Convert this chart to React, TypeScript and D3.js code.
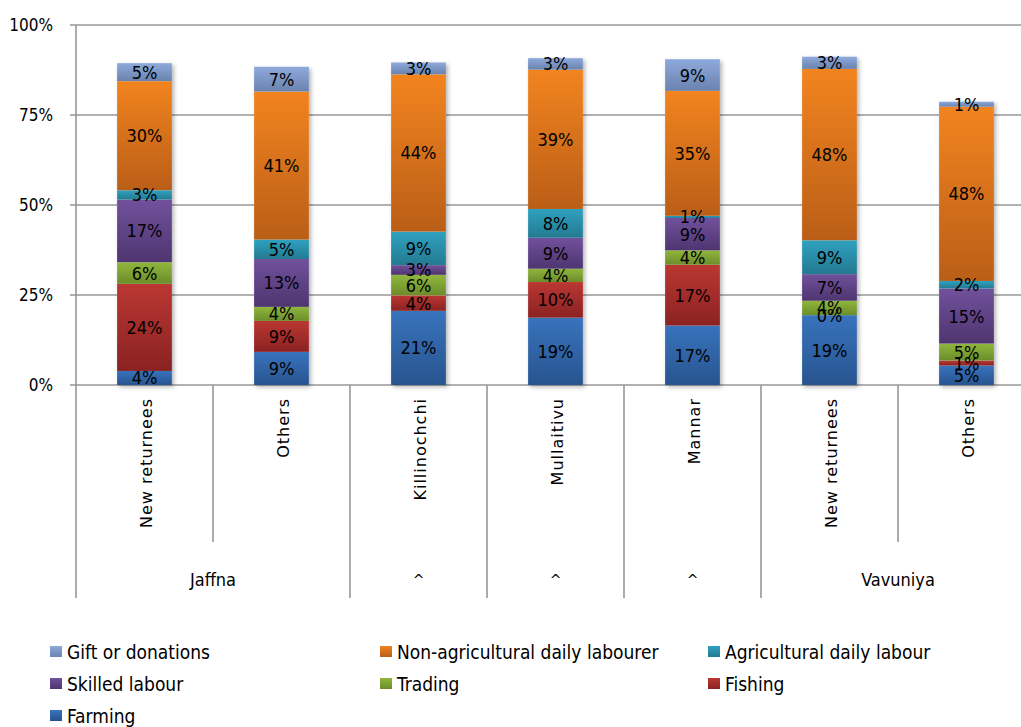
import React from "react";
import * as d3 from "d3";

const categories = ["New returnees", "Others", "Killinochchi", "Mullaitivu", "Mannar", "New returnees", "Others"];
const groupLabels = ["Jaffna", "^", "^", "^", "Vavuniya"];
const groupSpans = [2, 1, 1, 1, 2];

const seriesNames = [
  "Farming",
  "Fishing",
  "Trading",
  "Skilled labour",
  "Agricultural daily labour",
  "Non-agricultural daily labourer",
  "Gift or donations",
];
const farming = [3.9, 9.2, 20.6, 18.7, 16.5, 19.4, 5.4];
const fishing = [24.2, 8.6, 4.3, 9.9, 16.9, 0, 1.4];
const trading = [6.0, 3.9, 5.7, 3.7, 4.0, 4.0, 4.7];
const skilled = [17.4, 13.3, 2.7, 8.6, 9.0, 7.4, 15.3];
const agricultural = [2.6, 5.4, 9.3, 8.0, 0.6, 9.4, 2.1];
const nonAgricultural = [30.3, 41.1, 43.7, 38.7, 34.7, 47.6, 48.4];
const gift = [5.0, 6.9, 3.3, 3.2, 8.8, 3.4, 1.4];
const seriesValues = [farming, fishing, trading, skilled, agricultural, nonAgricultural, gift];

const yTicks = [0, 25, 50, 75, 100];

// top / bottom gradient colours per series
const colorsTop = ["#3873BC", "#BB3733", "#90B63D", "#71519C", "#2FA1C0", "#F2841F", "#8EAADB"];
const colorsBottom = ["#28548F", "#8A2222", "#6B8D2A", "#4E3570", "#237A91", "#BA5E17", "#6A82AE"];

// legend order (as in the reference)
const legendOrder = [6, 5, 4, 3, 2, 1, 0];

const narrow = "'Liberation Sans Narrow', 'DejaVu Sans', sans-serif";
const narrowStyle = { fontStretch: "condensed" as const };
const wide = "'DejaVu Sans', Verdana, sans-serif";

export default function App() {
  const width = 1021;
  const height = 727;
  const left = 76;
  const step = 137;
  const plotRight = left + step * categories.length;
  const top = 25;
  const bottom = 385;

  const x = d3
    .scaleBand<number>()
    .domain(d3.range(categories.length))
    .range([left, plotRight])
    .paddingInner(0.6)
    .paddingOuter(0.3);
  const y = d3.scaleLinear().domain([0, 100]).range([bottom, top]);

  const stackData = categories.map((_, i) => {
    const o: Record<string, number> = { idx: i };
    seriesNames.forEach((s, k) => (o[s] = seriesValues[k][i]));
    return o;
  });
  const stacked = d3.stack<Record<string, number>>().keys(seriesNames)(stackData);

  const groupBounds: number[] = [0];
  groupSpans.forEach((s) => groupBounds.push(groupBounds[groupBounds.length - 1] + s));

  const gridColor = "#979797";

  return (
    <svg width={width} height={height} style={{ position: "absolute", left: 0, top: 0, background: "#fff" }}>
      <defs>
        {seriesNames.map((_, k) => (
          <linearGradient key={k} id={`g${k}`} x1="0" y1="0" x2="0" y2="1">
            <stop offset="0%" stopColor={colorsTop[k]} />
            <stop offset="100%" stopColor={colorsBottom[k]} />
          </linearGradient>
        ))}
        <filter id="shadow" x="-20%" y="-5%" width="150%" height="115%">
          <feDropShadow dx="2" dy="2" stdDeviation="2" floodColor="#000" floodOpacity="0.3" />
        </filter>
      </defs>

      {yTicks.map((t) => (
        <line key={t} x1={70} x2={width} y1={y(t)} y2={y(t)} stroke={gridColor} strokeWidth={1.6} />
      ))}
      <line x1={left} x2={left} y1={top} y2={598} stroke={gridColor} strokeWidth={1.6} />
      {yTicks.map((t) => (
        <text
          key={"t" + t}
          x={53}
          y={y(t)}
          dy="0.35em"
          textAnchor="end"
          fontFamily={narrow}
          style={narrowStyle}
          fontSize={17}
          fill="#000"
        >
          {t}%
        </text>
      ))}

      {d3.range(1, categories.length + 1).map((i) => {
        const isGroup = groupBounds.includes(i);
        const xx = left + i * step;
        return (
          <line
            key={"d" + i}
            x1={xx}
            x2={xx}
            y1={bottom}
            y2={isGroup ? 598 : 542}
            stroke={gridColor}
            strokeWidth={1.6}
          />
        );
      })}

      {categories.map((_, i) => {
        const totalTop = stacked[stacked.length - 1][i][1];
        return (
          <rect
            key={"sh" + i}
            x={x(i)!}
            y={y(totalTop)}
            width={x.bandwidth()}
            height={y(0) - y(totalTop)}
            fill="#fff"
            filter="url(#shadow)"
          />
        );
      })}
      {stacked.map((layer, k) => (
        <g key={"s" + k}>
          {layer.map((d, i) => (
            <rect
              key={i}
              x={x(i)!}
              y={y(d[1])}
              width={x.bandwidth()}
              height={Math.max(0, y(d[0]) - y(d[1]))}
              fill={`url(#g${k})`}
            />
          ))}
        </g>
      ))}
      {stacked.map((layer, k) => (
        <g key={"lab" + k}>
          {layer.map((d, i) => (
            <text
              key={i}
              x={x(i)! + x.bandwidth() / 2}
              y={y((d[0] + d[1]) / 2)}
              dy="0.36em"
              textAnchor="middle"
              fontFamily={narrow}
              style={narrowStyle}
              fontSize={18}
              fill="#000"
            >
              {Math.round(seriesValues[k][i])}%
            </text>
          ))}
        </g>
      ))}

      {categories.map((c, i) => {
        const cx = left + i * step + step / 2 + 2;
        return (
          <text
            key={"c" + i}
            transform={`translate(${cx},398) rotate(-90)`}
            textAnchor="end"
            dy="0.36em"
            fontFamily={wide}
            fontSize={16}
            letterSpacing={1}
            fill="#000"
          >
            {c}
          </text>
        );
      })}

      {groupLabels.map((g, j) => {
        const cx = left + ((groupBounds[j] + groupBounds[j + 1]) / 2) * step;
        return (
          <text
            key={"gl" + j}
            x={cx}
            y={580}
            dy="0.36em"
            textAnchor="middle"
            fontFamily={g === "^" ? wide : narrow}
            style={g === "^" ? undefined : narrowStyle}
            fontSize={g === "^" ? 14 : 18}
            fill="#000"
          >
            {g}
          </text>
        );
      })}

      {legendOrder.map((k, n) => {
        const col = n % 3;
        const row = Math.floor(n / 3);
        const lx = [50, 380, 708][col];
        const ly = 652 + row * 32;
        return (
          <g key={"lg" + k}>
            <rect x={lx} y={ly - 6} width={12} height={11} fill={`url(#g${k})`} />
            <text
              x={lx + 17}
              y={ly}
              dy="0.36em"
              fontFamily={narrow}
              style={narrowStyle}
              fontSize={19}
              fill="#000"
            >
              {seriesNames[k]}
            </text>
          </g>
        );
      })}
    </svg>
  );
}
